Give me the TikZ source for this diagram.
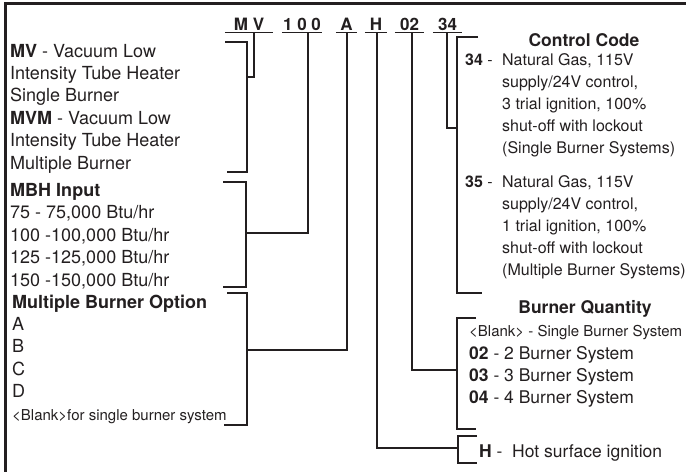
\documentclass[tikz,border=0pt]{standalone}
\usepackage{fontspec}
\setmainfont{TeX Gyre Heros}
\usetikzlibrary{positioning,calc}
\definecolor{InkGray}{RGB}{35,31,32}
\newcommand{\smalltxt}{\fontsize{15}{18}\selectfont}

\begin{document}
\begin{tikzpicture}[
    x=1pt,y=-1pt,
    every node/.style={inner sep=0pt,text=InkGray},
    desc/.style={anchor=base west,align=left,font=\fontsize{18}{22.4}\selectfont},
    note/.style={anchor=base west,align=left,font=\fontsize{16}{22}\selectfont},
    head/.style={anchor=base,font=\fontsize{17.5}{22}\selectfont\bfseries},
    code/.style={anchor=base,font=\fontsize{17}{20}\selectfont\bfseries,inner ysep=2.5pt},
    wire/.style={draw=InkGray,line width=1.2pt}
  ]
  \useasboundingbox (0,0) rectangle (686,472);
  % frame
  \draw[InkGray,line width=3pt] (686,3.5) -- (5.5,3.5) -- (5.5,472);

  % model code
  \node[code,minimum width=48pt] (mv) at (249,30) {M V};
  \node[code,minimum width=40pt] (num) at (302,30) {1 0 0};
  \node[code,minimum width=21pt] (opt) at (346.5,30) {A};
  \node[code,minimum width=22pt] (ign) at (376,30) {H};
  \node[code,minimum width=29pt] (qty) at (409.5,30) {02};
  \node[code,minimum width=29pt] (ctl) at (447.5,30) {34};
  \foreach \n in {mv,num,opt,ign,qty,ctl}
    \draw[wire] (\n.south west) -- (\n.south east);

  % left column (base = last line)
  \node[desc] (series) at (10,169) {\textbf{MV} - Vacuum Low\\Intensity Tube Heater\\Single Burner\\\textbf{MVM} - Vacuum Low\\Intensity Tube Heater\\Multiple Burner};
  \node[desc] (input) at (10,286) {\textbf{MBH Input}\\75 - 75,000 Btu/hr\\100 -100,000 Btu/hr\\125 -125,000 Btu/hr\\150 -150,000 Btu/hr};
  \node[desc] (option) at (12,420) {\textbf{Multiple Burner Option}\\A\\B\\C\\D\\{\smalltxt <Blank>for single burner system}};

  % right column
  \node[head] (ctlhead) at (584,46) {Control Code};
  \node[note] (c34) at (465,65) {\textbf{34} -};
  \node[note] (t34) at (502,153) {Natural Gas, 115V\\supply/24V control,\\3 trial ignition, 100\%\\shut-off with lockout\\(Single Burner Systems)};
  \node[note] (c35) at (465,187) {\textbf{35} -};
  \node[note] (t35) at (502,275) {Natural Gas, 115V\\supply/24V control,\\1 trial ignition, 100\%\\shut-off with lockout\\(Multiple Burner Systems)};
  \node[head] (qtyhead) at (585,313) {Burner Quantity};
  \node[note,font=\smalltxt] (blank) at (469,336) {<Blank> - Single Burner System};
  \node[note,font=\fontsize{17.5}{22}\selectfont] (counts) at (469,403) {\textbf{02} - 2 Burner System\\\textbf{03} - 3 Burner System\\\textbf{04} - 4 Burner System};
  \node[note,font=\fontsize{17.5}{22}\selectfont] (hot) at (479,457) {\textbf{H} -\ \ Hot surface ignition};

  % brackets
  \draw[wire] (225,42) -- (247,42) -- (247,172) -- (227,172);
  \draw[wire] (223,182) -- (246,182) -- (246,287) -- (223,287);
  \draw[wire] (227,293) -- (247,293) -- (247,425) -- (224,425);
  \draw[wire] (478,37) -- (457,37) -- (457,293) -- (482,293);
  \draw[wire] (476,318) -- (457,318) -- (457,429) -- (476,429);
  \draw[wire] (477,436) -- (458,436) -- (458,463) -- (477,463);

  % connectors
  \coordinate (mvj) at (247,77);
  \coordinate (numj) at (246,233);
  \coordinate (optj) at (247,350);
  \coordinate (ctlj) at (457,128);
  \coordinate (qtyj) at (457,370);
  \coordinate (ignj) at (458,448);
  \draw[wire] ([xshift=5pt]mv.south) |- (mvj);
  \draw[wire] ([xshift=6pt]num.south) |- (numj);
  \draw[wire] ([xshift=0.5pt]opt.south) |- (optj);
  \draw[wire] ([xshift=1pt]ign.south) |- (ignj);
  \draw[wire] ([xshift=2.5pt]qty.south) |- (qtyj);
  \draw[wire] ([xshift=-0.5pt]ctl.south) |- (ctlj);
\end{tikzpicture}
\end{document}
